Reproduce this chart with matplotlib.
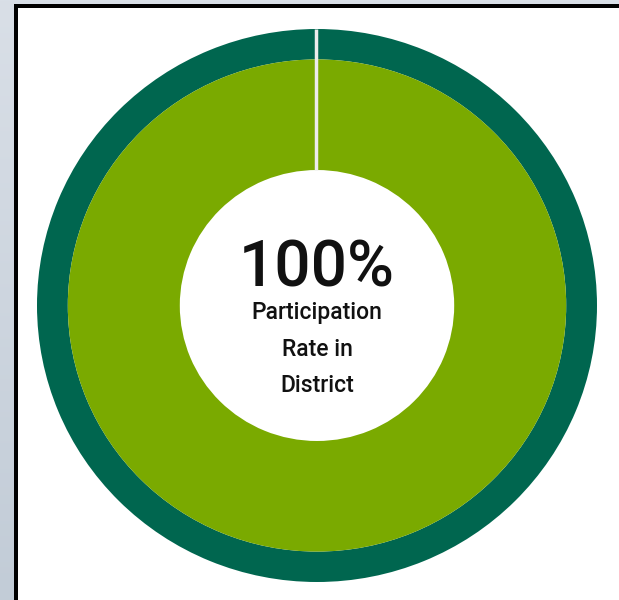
import numpy as np
import matplotlib.pyplot as plt
from matplotlib.patches import Rectangle

# data
participation_rate = 100
headline = f"{participation_rate}%"
caption = "Participation\nRate in\nDistrict"

dark_green = "#00664f"
light_green = "#7aaa00"

W, H = 619, 600
fig = plt.figure(figsize=(W / 100, H / 100), dpi=100)

# page background (gradient) + black frame
bg = fig.add_axes([0, 0, 1, 1])
bg.set_xlim(0, W)
bg.set_ylim(H, 0)
bg.axis("off")
top = np.array([0xd9, 0xdf, 0xe7]) / 255
bot = np.array([0xc2, 0xcc, 0xd7]) / 255
t = np.linspace(0, 1, 256)[:, None, None]
grad = top * (1 - t) + bot * t
bg.imshow(grad, extent=[0, W, H, 0], aspect="auto")
bg.add_patch(Rectangle((14, 4), W, H, facecolor="black", edgecolor="none"))
bg.add_patch(Rectangle((18, 8), W, H, facecolor="white", edgecolor="none"))

# donut
ax = fig.add_axes([37 / W, 18 / H, 560 / W, 553 / H])
vals = [participation_rate, 100 - participation_rate]
ax.pie(vals, radius=1.0, colors=[dark_green, "white"], startangle=90,
       counterclock=False, wedgeprops=dict(width=0.11, edgecolor="none"))
ax.pie(vals, radius=0.89, colors=[light_green, "white"], startangle=90,
       counterclock=False, wedgeprops=dict(width=0.40, edgecolor="none"))
ax.set_aspect("auto")
ax.set_xlim(-1, 1)
ax.set_ylim(-1, 1)
ax.axis("off")

# separator at the start of the wedge
ang = np.deg2rad(90)
r = np.array([0.49, 1.0])
ax.plot(r * np.cos(ang) - 0.003, r * np.sin(ang), color="#ececec", lw=2.5,
        solid_capstyle="butt")

ax.text(0, 0.135, headline, ha="center", va="center", fontsize=46,
        family="Roboto", fontweight="medium", color="#111111")
ax.text(0, -0.158, caption, ha="center", va="center", fontsize=16.5,
        family="Roboto", fontweight="medium", color="#111111",
        linespacing=1.75)

fig.savefig("out.png", dpi=100)
